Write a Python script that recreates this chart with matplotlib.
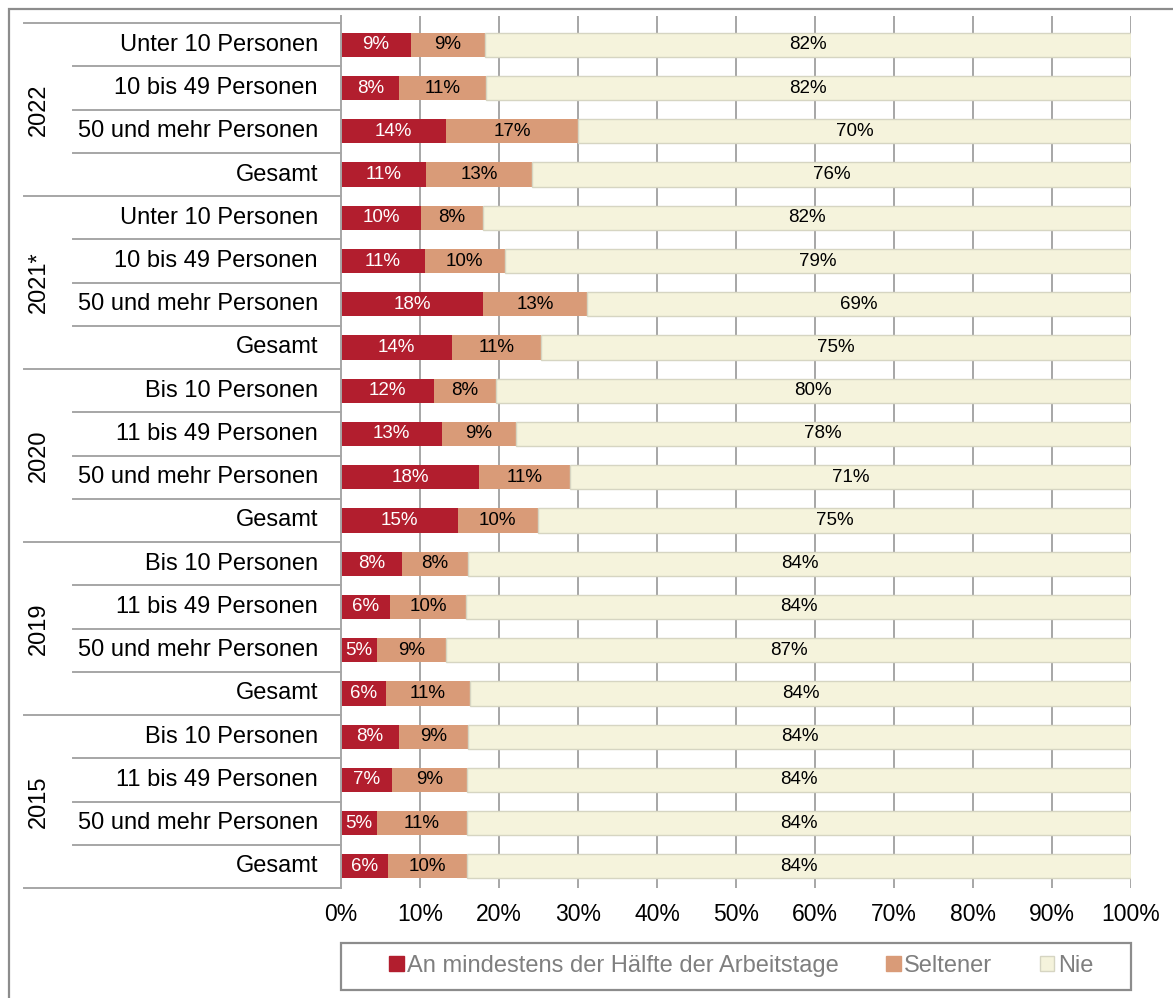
import matplotlib
matplotlib.use("Agg")
import matplotlib.pyplot as plt
import matplotlib.patches as mpatches
from matplotlib.lines import Line2D
from matplotlib.transforms import blended_transform_factory

plt.rcParams['font.family'] = ['Liberation Sans', 'DejaVu Sans']

years = ["2022", "2021*", "2020", "2019", "2015"]
rows = [
    "Unter 10 Personen", "10 bis 49 Personen", "50 und mehr Personen", "Gesamt",
    "Unter 10 Personen", "10 bis 49 Personen", "50 und mehr Personen", "Gesamt",
    "Bis 10 Personen", "11 bis 49 Personen", "50 und mehr Personen", "Gesamt",
    "Bis 10 Personen", "11 bis 49 Personen", "50 und mehr Personen", "Gesamt",
    "Bis 10 Personen", "11 bis 49 Personen", "50 und mehr Personen", "Gesamt",
]

# shares (%)
haelfte = [8.8, 7.4, 13.3, 10.7, 10.1, 10.6, 18.0, 14.1, 11.8, 12.8,
           17.5, 14.8, 7.7, 6.2, 4.5, 5.7, 7.3, 6.5, 4.6, 5.9]
seltener = [9.4, 10.9, 16.7, 13.5, 7.9, 10.1, 13.2, 11.2, 7.8, 9.3,
            11.5, 10.1, 8.4, 9.6, 8.8, 10.6, 8.8, 9.4, 11.3, 10.0]
nie = [81.8, 81.7, 70.0, 75.8, 82.0, 79.3, 68.8, 74.7, 80.4, 77.9,
       71.0, 75.1, 83.9, 84.2, 86.7, 83.7, 83.9, 84.1, 84.1, 84.1]

# printed data labels (%)
haelfte_lbl = [9, 8, 14, 11, 10, 11, 18, 14, 12, 13, 18, 15, 8, 6, 5, 6, 8, 7, 5, 6]
seltener_lbl = [9, 11, 17, 13, 8, 10, 13, 11, 8, 9, 11, 10, 8, 10, 9, 11, 9, 9, 11, 10]
nie_lbl = [82, 82, 70, 76, 82, 79, 69, 75, 80, 78, 71, 75, 84, 84, 87, 84, 84, 84, 84, 84]

series = ["An mindestens der Hälfte der Arbeitstage", "Seltener", "Nie"]
colors = ["#B21E2E", "#D99B78", "#F5F3DC"]
grid_col = "#A6A6A6"

W, H = 1173, 998
fig = plt.figure(figsize=(W / 100, H / 100), dpi=100)

# outer frame
fig.patches.append(mpatches.Rectangle((9 / W, -0.05), 1.2, 1 - 9 / H + 0.05,
                                      transform=fig.transFigure, fill=False,
                                      edgecolor="#8C8C8C", linewidth=1.6))

ax = fig.add_axes([341 / W, (H - 888) / H, 790 / W, 872 / H])
ax.set_xlim(0, 100)
ax.set_ylim(19.5, -0.5 - 7.2 / 43.25)

for x in range(10, 101, 10):
    ax.axvline(x, color=grid_col, linewidth=1.4, zorder=0)

y = list(range(len(rows)))
left2 = [a for a in haelfte]
left3 = [a + b for a, b in zip(haelfte, seltener)]
bh = 0.56
ax.barh(y, haelfte, height=bh, color=colors[0], zorder=2)
ax.barh(y, seltener, left=left2, height=bh, color=colors[1], zorder=2)
ax.barh(y, nie, left=left3, height=bh, color=colors[2], edgecolor="#D6D5C2",
        linewidth=1.0, zorder=2)

lbl_fs = 13.5
for i in y:
    ax.text(haelfte[i] / 2, i, f"{haelfte_lbl[i]}%", ha="center", va="center",
            fontsize=lbl_fs, color="white", zorder=3)
    ax.text(left2[i] + seltener[i] / 2, i, f"{seltener_lbl[i]}%", ha="center",
            va="center", fontsize=lbl_fs, color="black", zorder=3)
    ax.text(left3[i] + nie[i] / 2, i, f"{nie_lbl[i]}%", ha="center",
            va="center", fontsize=lbl_fs, color="black", zorder=3)

for s in ["top", "right", "bottom"]:
    ax.spines[s].set_visible(False)
ax.spines["left"].set_color(grid_col)
ax.spines["left"].set_linewidth(1.4)
ax.set_yticks([])
ax.set_xticks(range(0, 101, 10))
ax.set_xticklabels([f"{v}%" for v in range(0, 101, 10)], fontsize=16.5)
ax.tick_params(axis="x", length=0, pad=10.5)

# category labels and separators left of the plot
tr = blended_transform_factory(fig.transFigure, ax.transData)
for i, name in enumerate(rows):
    ax.text(318 / W, i, name, transform=tr, ha="right", va="center",
            fontsize=17, clip_on=False)
for k in range(len(rows) + 1):
    yy = k - 0.5
    x0 = 24 / W if k % 4 == 0 else 73 / W
    ax.add_line(Line2D([x0, 341 / W], [yy, yy], transform=tr, color=grid_col,
                       linewidth=1.4, clip_on=False))
for g, yr in enumerate(years):
    ax.text(39 / W, g * 4 + 1.5, yr, transform=tr, ha="center", va="center",
            rotation=90, fontsize=17, clip_on=False)

# legend box
fig.patches.append(mpatches.Rectangle((341 / W, (H - 990) / H), 790 / W, 47 / H,
                                      transform=fig.transFigure, fill=False,
                                      edgecolor="#8C8C8C", linewidth=1.6))
handles = [mpatches.Patch(facecolor=c, edgecolor="#D6D5C2" if j == 2 else c)
           for j, c in enumerate(colors)]
leg = fig.legend(handles, series, loc="center", ncol=3, frameon=False,
                 bbox_to_anchor=(741 / W, (H - 966) / H), fontsize=17,
                 handlelength=0.62, handleheight=0.62, handletextpad=0.15,
                 columnspacing=2.0)
for t in leg.get_texts():
    t.set_color("#7F7F7F")

fig.savefig("out.png", dpi=100)
